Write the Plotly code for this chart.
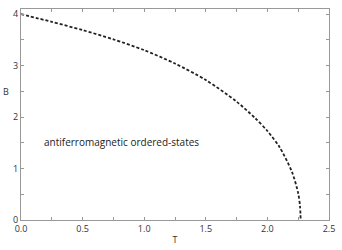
import plotly.graph_objects as go

T = [0.0, 0.25, 0.5, 0.75, 1.0, 1.25, 1.5, 1.75, 1.9, 2.0, 2.1, 2.2, 2.25, 2.265, 2.27]
B = [4.0, 3.85, 3.69, 3.51, 3.30, 3.04, 2.72, 2.3, 1.98, 1.73, 1.41, 0.93, 0.52, 0.26, 0.0]

x_ticks = [0.0, 0.5, 1.0, 1.5, 2.0, 2.5]
x_labels = ["0.0", "0.5", "1.0", "1.5", "2.0", "2.5"]
y_ticks = [0, 1, 2, 3, 4]
y_labels = ["0", "1", "2", "3", "4"]

fig = go.Figure()
fig.add_trace(go.Scatter(x=T, y=B, mode="lines",
                         line=dict(color="#222222", width=1.8, dash="3px,2px", shape="spline", smoothing=0.8),
                         showlegend=False, hoverinfo="skip"))

font = dict(family="Open Sans, DejaVu Sans, sans-serif", size=9, color="#333333")
axis_common = dict(showline=True, linecolor="#999999", linewidth=1.2, mirror="ticks",
                   ticks="inside", ticklen=3, tickcolor="#999999", showgrid=False,
                   zeroline=False, tickfont=font)
fig.update_xaxes(range=[0, 2.5], tickvals=x_ticks, ticktext=x_labels,
                 minor=dict(dtick=0.25, ticks="inside", ticklen=3, tickcolor="#999999"),
                 title=dict(text="T", font=font, standoff=2), **axis_common)
fig.update_yaxes(range=[0, 4.1], tickvals=y_ticks, ticktext=y_labels,
                 minor=dict(dtick=0.5, ticks="inside", ticklen=3, tickcolor="#999999"),
                 **axis_common)

fig.add_annotation(text="B", xref="paper", yref="paper", x=-0.05, y=0.61,
                   showarrow=False, font=font, xanchor="center", yanchor="middle")
fig.add_annotation(text="antiferromagnetic ordered-states", x=0.17, y=1.51,
                   xanchor="left", yanchor="middle", showarrow=False,
                   font=dict(family="Open Sans, DejaVu Sans, sans-serif", size=10, color="#222222"))

fig.update_layout(width=342, height=250, margin=dict(l=21, r=7, t=9, b=24),
                  plot_bgcolor="white", paper_bgcolor="white")
fig.write_html("out.html")
